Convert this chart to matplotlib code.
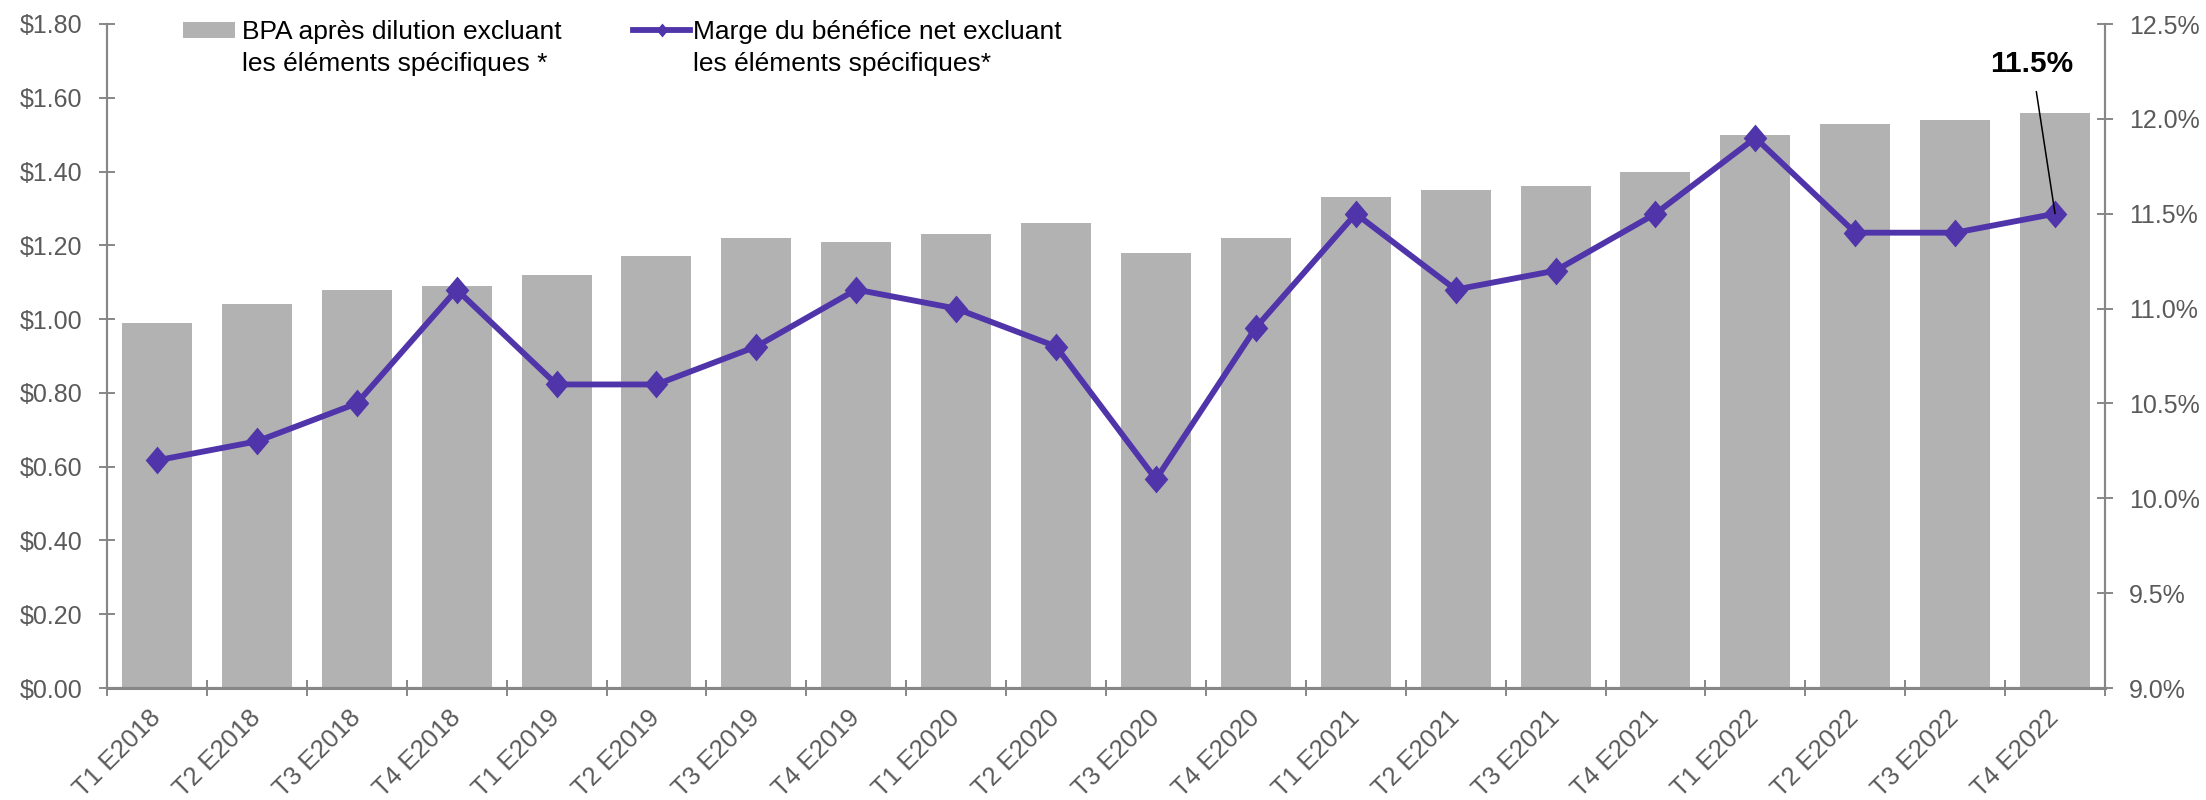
import matplotlib
matplotlib.use("Agg")
import matplotlib.pyplot as plt
import numpy as np
from matplotlib.path import Path
from matplotlib.patches import Patch
from matplotlib.lines import Line2D
from matplotlib.legend_handler import HandlerPatch, HandlerLine2D
from matplotlib.ticker import FuncFormatter, MultipleLocator, FixedLocator

plt.rcParams['font.family'] = ['Liberation Sans', 'DejaVu Sans']

quarters = ['T1 E2018', 'T2 E2018', 'T3 E2018', 'T4 E2018',
            'T1 E2019', 'T2 E2019', 'T3 E2019', 'T4 E2019',
            'T1 E2020', 'T2 E2020', 'T3 E2020', 'T4 E2020',
            'T1 E2021', 'T2 E2021', 'T3 E2021', 'T4 E2021',
            'T1 E2022', 'T2 E2022', 'T3 E2022', 'T4 E2022']
bpa = [0.99, 1.04, 1.08, 1.09, 1.12, 1.17, 1.22, 1.21, 1.23, 1.26,
       1.18, 1.22, 1.33, 1.35, 1.36, 1.40, 1.50, 1.53, 1.54, 1.56]
marge = [10.2, 10.3, 10.5, 11.1, 10.6, 10.6, 10.8, 11.1, 11.0, 10.8,
         10.1, 10.9, 11.5, 11.1, 11.2, 11.5, 11.9, 11.4, 11.4, 11.5]

bar_label = 'BPA après dilution excluant\nles éléments spécifiques *'
line_label = 'Marge du bénéfice net excluant\nles éléments spécifiques*'

GRAY_TXT = '#5a5a5a'
AXIS_GRAY = '#878787'
BAR = '#b2b2b2'
PURPLE = '#5034aa'
TICK_FS = 18
LEG_FS = 19
LEG_SHIFT = 0.68  # handle lift, in font sizes

diamond = Path([(0, 1), (0.85, 0), (0, -1), (-0.85, 0), (0, 1)],
               [Path.MOVETO, Path.LINETO, Path.LINETO, Path.LINETO, Path.CLOSEPOLY])


# legend handles sit on the first line of the two-line labels
class TopPatch(HandlerPatch):
    def create_artists(self, legend, orig_handle, xdescent, ydescent, width, height, fontsize, trans):
        return super().create_artists(legend, orig_handle, xdescent, ydescent - LEG_SHIFT * fontsize,
                                      width, height, fontsize, trans)


class TopLine(HandlerLine2D):
    def create_artists(self, legend, orig_handle, xdescent, ydescent, width, height, fontsize, trans):
        arts = super().create_artists(legend, orig_handle, xdescent, ydescent,
                                      width, height, fontsize, trans)
        for a in arts:
            a.set_ydata(np.asarray(a.get_ydata()) + LEG_SHIFT * fontsize)
        return arts


fig = plt.figure(figsize=(22.06, 8), dpi=100)
ax = fig.add_axes([107 / 2206, 112 / 800, 1998 / 2206, 664 / 800])
ax2 = ax.twinx()

x = np.arange(len(quarters))
ax.bar(x, bpa, width=0.70, color=BAR, zorder=2)
ax2.plot(x, marge, color=PURPLE, lw=4.2, marker=diamond, markersize=20,
         markeredgewidth=0, zorder=3)

ax.set_xlim(-0.5, len(quarters) - 0.5)
ax.set_ylim(0, 1.80)
ax2.set_ylim(9.0, 12.5)

ax.yaxis.set_major_locator(MultipleLocator(0.2))
ax.yaxis.set_major_formatter(FuncFormatter(lambda v, p: f'${v:.2f}'))
ax2.yaxis.set_major_locator(MultipleLocator(0.5))
ax2.yaxis.set_major_formatter(FuncFormatter(lambda v, p: f'{v:.1f}%'))

ax.set_xticks(x)
ax.set_xticklabels(quarters, rotation=45, ha='right', va='center', rotation_mode='anchor')
ax.xaxis.set_minor_locator(FixedLocator(np.arange(-0.5, len(quarters), 1.0)))
ax.tick_params(axis='x', which='major', length=0, pad=19, labelsize=18.5, labelcolor=GRAY_TXT)
ax.tick_params(axis='x', which='minor', length=12, width=1.4, color=AXIS_GRAY, direction='inout')
ax.tick_params(axis='y', length=11.5, width=1.4, color=AXIS_GRAY, direction='inout',
               pad=12, labelsize=TICK_FS, labelcolor=GRAY_TXT)
ax2.tick_params(axis='y', length=11.5, width=1.4, color=AXIS_GRAY, direction='inout',
                pad=11.5, labelsize=TICK_FS, labelcolor=GRAY_TXT)

for a in (ax, ax2):
    a.spines['top'].set_visible(False)
    for s in ('left', 'right', 'bottom'):
        a.spines[s].set_color(AXIS_GRAY)
        a.spines[s].set_linewidth(1.5)
ax.spines['bottom'].set_linewidth(2.2)

ax.set_zorder(ax2.get_zorder() - 1)
ax2.patch.set_visible(False)

# two legend entries placed side by side
bar_handle = Patch(facecolor=BAR, edgecolor='none')
line_handle = Line2D([], [], color=PURPLE, lw=4.2, marker=diamond, markersize=10,
                     markeredgewidth=0)
leg1 = fig.legend([bar_handle], [bar_label], loc='upper left',
                  bbox_to_anchor=(183 / 2206, 1 - 20 / 800), frameon=False,
                  fontsize=LEG_FS, handlelength=1.97, handleheight=0.57,
                  handletextpad=0.27, borderpad=0, borderaxespad=0,
                  handler_map={Patch: TopPatch()})
leg2 = fig.legend([line_handle], [line_label], loc='upper left',
                  bbox_to_anchor=(633 / 2206, 1 - 20 / 800), frameon=False,
                  fontsize=LEG_FS, handlelength=2.16, handletextpad=0.11,
                  borderpad=0, borderaxespad=0,
                  handler_map={Line2D: TopLine()})
for leg in (leg1, leg2):
    for t in leg.get_texts():
        t.set_linespacing(1.4)

# annotation of last point
ax2.annotate(f'{marge[-1]:.1f}%', xy=(x[-1], marge[-1]), xytext=(x[-1] - 0.23, 12.29),
             ha='center', va='center', fontsize=21.5, fontweight='bold', color='black',
             arrowprops=dict(arrowstyle='-', color='black', lw=1.1, shrinkA=8, shrinkB=0),
             zorder=5)

fig.savefig('out.png', dpi=100)
